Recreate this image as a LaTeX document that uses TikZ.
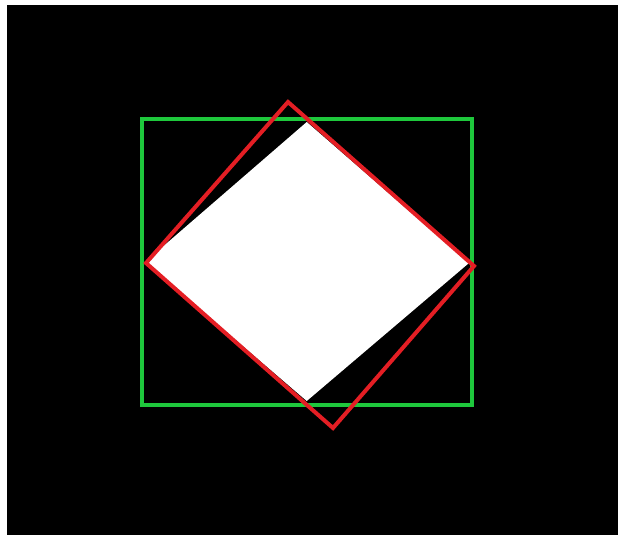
\documentclass[tikz,border=0pt]{standalone}
\usetikzlibrary{calc}

\definecolor{boxgreen}{RGB}{30,200,60}
\definecolor{boxred}{RGB}{228,30,36}

\begin{document}
\begin{tikzpicture}[
        x = 1pt, y = -1pt,
        canvas/.style = {fill = black},
        frame/.style = {draw = boxgreen, line width = 4pt},
        tilted/.style = {draw = boxred, line width = 4pt, line join = miter},
        rhomb/.style = {fill = white}
    ]

      \useasboundingbox[fill = white] (0,0) rectangle (618,535);
      \fill[canvas] (7,5) rectangle (618,535);

      % green box
      \coordinate (g_nw) at (141.5,118.5);
      \coordinate (g_se) at (472,405);

      % white rhombus, corners just inside the box edges
      \coordinate (w_n) at (306.75,122);
      \coordinate (w_e) at (469,263);
      \coordinate (w_s) at (306.75,401);
      \coordinate (w_w) at (145,262);

      % red rotated box
      \coordinate (r_n) at (288,102);
      \coordinate (r_e) at (474,266);
      \coordinate (r_s) at (333,428);
      \coordinate (r_w) at (146,263);

      \fill[rhomb] (w_n) -- (w_e) -- (w_s) -- (w_w) -- cycle;
      \draw[frame] (g_nw) rectangle (g_se);
      \draw[tilted] (r_n) -- (r_e) -- (r_s) -- (r_w) -- cycle;

\end{tikzpicture}
\end{document}
